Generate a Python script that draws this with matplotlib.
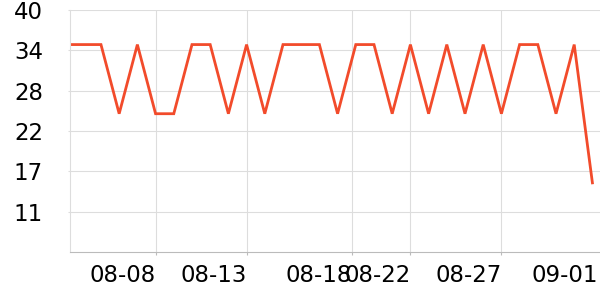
import pandas as pd
import matplotlib
matplotlib.use("Agg")
from matplotlib import pyplot as plt
import matplotlib.dates as mdates

# daily values, 08-03 .. 09-01
dates = pd.date_range("2023-08-03", "2023-09-01", freq="D")
values = [35, 35, 35, 25, 35, 25, 25, 35, 35, 25,
          35, 25, 35, 35, 35, 25, 35, 35, 25, 35,
          25, 35, 25, 35, 25, 35, 35, 25, 35, 15]

# x ticks as drawn on the original chart
tick_times = pd.to_datetime(["2023-08-08 00:00", "2023-08-13 00:00", "2023-08-18 19:00",
                             "2023-08-22 00:00", "2023-08-27 00:00", "2023-09-01 07:00"])
tick_labels = ["08-08", "08-13", "08-18", "08-22", "08-27", "09-01"]

y_ticks = [5 + 35 / 6 * i for i in range(1, 7)]
y_labels = ["11", "17", "22", "28", "34", "40"]

fig = plt.figure(figsize=(6, 3), dpi=100)
ax = fig.add_axes([70 / 600, 48 / 300, 530 / 600, 242 / 300])

ax.plot(dates, values, color="#f24b2b", linewidth=2.0, solid_joinstyle="miter")

ax.set_ylim(5, 40)
ax.set_xlim(pd.Timestamp("2023-08-03 07:10"), pd.Timestamp("2023-09-01 10:00"))

ax.set_yticks(y_ticks)
ax.set_yticklabels(y_labels)
ax.set_xticks(mdates.date2num(tick_times))
ax.set_xticklabels(tick_labels, ha="right")

ax.grid(True, color="#dddddd", linewidth=0.8)
ax.set_axisbelow(True)
for s in ["top", "right"]:
    ax.spines[s].set_visible(False)
ax.spines["left"].set_color("#dddddd")
ax.spines["left"].set_linewidth(0.8)
ax.spines["bottom"].set_color("#bbbbbb")
ax.spines["bottom"].set_linewidth(0.8)

ax.tick_params(axis="y", length=1.5, color="#dddddd", pad=18, labelsize=16.5)
ax.tick_params(axis="x", length=2.5, color="#bbbbbb", pad=6.5, labelsize=16.5)
ax.xaxis.set_minor_locator(plt.NullLocator())

# last tick sits at the chart edge: label only, no grid line or tick mark
ax.xaxis.get_gridlines()[-1].set_visible(False)
ax.xaxis.get_major_ticks()[-1].tick1line.set_visible(False)

fig.savefig("out.png", dpi=100)
